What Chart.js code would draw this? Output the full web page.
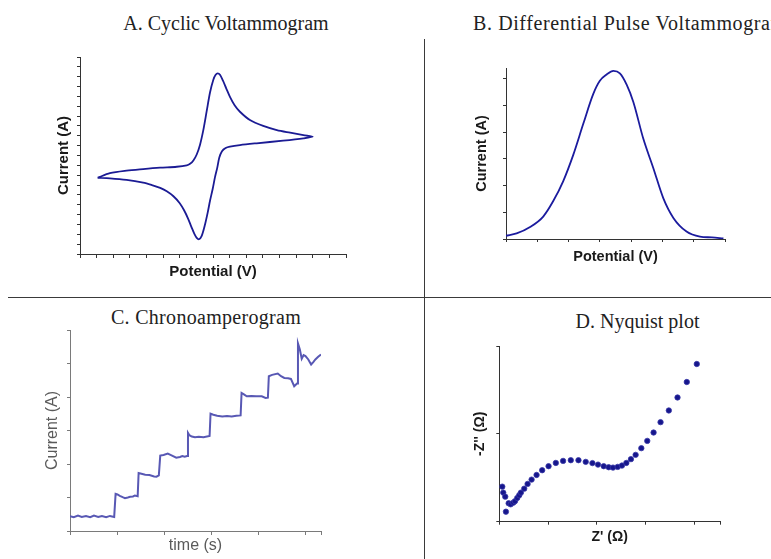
<!DOCTYPE html>
<html>
<head>
<meta charset="utf-8">
<title>Electrochemical techniques</title>
<script src="https://cdn.jsdelivr.net/npm/chart.js@4.4.1/dist/chart.umd.min.js"></script>
<style>
  html, body { margin: 0; padding: 0; background: #fff; }
  body { width: 771px; height: 559px; position: relative; overflow: hidden; }
  canvas.panel { position: absolute; left: 0; top: 0; }
  .heading { position: absolute; font-family: "Liberation Serif", serif; font-size: 20px; line-height: 20px; color: #222; white-space: nowrap; }
  .rule { position: absolute; background: #3a3a3a; }
</style>
</head>
<body>
<div class="rule" style="left:8px;top:297px;width:763px;height:1px"></div>
<div class="rule" style="left:424px;top:39px;width:1px;height:520px"></div>

<div class="heading" style="left:226px;top:12.5px;transform:translateX(-50%)">A. Cyclic Voltammogram</div>
<div class="heading" style="left:473px;top:13px;letter-spacing:0.6px">B. Differential Pulse Voltammogram</div>
<div class="heading" style="left:206px;top:306.5px;transform:translateX(-50%);letter-spacing:0.3px">C. Chronoamperogram</div>
<div class="heading" style="left:637.5px;top:310.5px;transform:translateX(-50%)">D. Nyquist plot</div>

<canvas id="cv" class="panel" width="771" height="559"></canvas>
<canvas id="dpv" class="panel" width="771" height="559"></canvas>
<canvas id="ca" class="panel" width="771" height="559"></canvas>
<canvas id="eis" class="panel" width="771" height="559"></canvas>

<script>
// cyclic voltammogram: forward scan to the right vertex, then back
const cvPotential = [0.53, 0.90, 1.40, 1.90, 2.41, 2.91, 3.21, 3.31, 3.41, 3.51, 3.61, 3.71, 3.81, 3.91, 4.01, 4.08, 4.14, 4.21, 4.30, 4.40, 4.51, 4.65, 4.81, 5.11, 5.51, 5.92, 6.32, 6.72, 7.00,
                     6.72, 6.11, 5.31, 4.81, 4.51, 4.38, 4.27, 4.19, 4.13, 4.06, 3.99, 3.91, 3.84, 3.76, 3.66, 3.58, 3.51, 3.44, 3.35, 3.25, 3.13, 3.00, 2.81, 2.61, 2.41, 2.16, 1.90, 1.40, 0.90, 0.53];
const cvCurrent   = [3.87, 4.10, 4.23, 4.31, 4.38, 4.43, 4.50, 4.58, 4.75, 5.05, 5.55, 6.30, 7.25, 8.20, 8.85, 9.10, 9.17, 9.10, 8.80, 8.40, 7.98, 7.55, 7.22, 6.80, 6.50, 6.29, 6.16, 6.04, 5.96,
                     5.87, 5.75, 5.62, 5.53, 5.45, 5.38, 5.22, 4.90, 4.40, 3.90, 3.30, 2.70, 2.10, 1.50, 0.92, 0.75, 0.82, 1.02, 1.38, 1.80, 2.22, 2.58, 2.93, 3.18, 3.36, 3.50, 3.62, 3.76, 3.84, 3.87];

// differential pulse voltammogram
const dpvPotential = [0, 0.34, 0.77, 1.19, 1.51, 1.83, 2.15, 2.47, 2.79, 3.00, 3.22, 3.43, 3.64, 3.86, 4.07, 4.39, 4.71, 5.03, 5.35, 5.77, 6.20, 6.58, 6.95];
const dpvCurrent   = [0.12, 0.21, 0.45, 0.84, 1.42, 2.17, 3.15, 4.31, 5.43, 5.92, 6.16, 6.29, 6.20, 5.77, 5.13, 3.75, 2.65, 1.52, 0.79, 0.28, 0.09, 0.06, 0.02];

// chronoamperogram: current steps after each addition
const caTime    = [-0.34, -0.26, -0.17, -0.09, 0.00, 0.09, 0.17, 0.26, 0.34, 0.43, 0.51, 0.60,
                   0.63, 0.67, 0.72, 0.78, 0.83, 0.89, 0.94, 1.00, 1.04, 1.10,
                   1.12, 1.18, 1.26, 1.35, 1.45, 1.50, 1.55,
                   1.58, 1.65, 1.74, 1.82, 1.92, 2.00, 2.05, 2.10, 2.15,
                   2.17, 2.20, 2.25, 2.32, 2.40, 2.50, 2.63,
                   2.65, 2.71, 2.79, 2.90, 3.00, 3.10, 3.20, 3.29,
                   3.31, 3.36, 3.42, 3.52, 3.62, 3.74, 3.82, 3.87,
                   3.89, 3.96, 4.08, 4.15, 4.22, 4.30, 4.36, 4.43, 4.49,
                   4.51, 4.55, 4.59, 4.63, 4.67, 4.73, 4.79, 4.84, 4.88, 4.94, 5.00];
const caCurrent = [0.44, 0.41, 0.46, 0.42, 0.45, 0.41, 0.46, 0.42, 0.45, 0.41, 0.45, 0.42,
                   1.11, 1.09, 1.05, 1.01, 0.98, 1.00, 1.02, 1.03, 1.06, 1.04,
                   1.73, 1.71, 1.68, 1.67, 1.63, 1.62, 1.66,
                   2.25, 2.27, 2.31, 2.26, 2.19, 2.21, 2.24, 2.22, 2.24,
                   2.93, 2.86, 2.82, 2.80, 2.81, 2.80, 2.84,
                   3.50, 3.47, 3.44, 3.42, 3.43, 3.42, 3.44, 3.45,
                   4.12, 4.08, 4.02, 4.03, 4.02, 4.02, 3.97, 3.98,
                   4.62, 4.66, 4.70, 4.62, 4.57, 4.56, 4.54, 4.32, 4.40,
                   5.60, 5.42, 5.14, 5.25, 5.22, 5.12, 4.97, 5.05, 5.12, 5.20, 5.27];

// impedance spectrum, real vs negative imaginary part
const zReal = [-0.464, -0.444, -0.403, -0.389, -0.333, -0.292, -0.239, -0.204, -0.157, -0.117, -0.082, -0.014, 0.055, 0.137, 0.239, 0.354, 0.485, 0.634, 0.783, 0.941,
               1.098, 1.247, 1.384, 1.499, 1.616, 1.718, 1.806, 1.902, 1.990, 2.080, 2.174, 2.270, 2.387, 2.509, 2.638, 2.781, 2.951, 3.129, 3.319, 3.524];
const zImag = [0.399, 0.331, 0.285, 0.114, 0.210, 0.198, 0.217, 0.233, 0.270, 0.301, 0.331, 0.376, 0.430, 0.479, 0.532, 0.586, 0.632, 0.669, 0.692, 0.700,
               0.700, 0.681, 0.667, 0.650, 0.632, 0.620, 0.616, 0.624, 0.639, 0.669, 0.712, 0.761, 0.837, 0.920, 1.015, 1.133, 1.266, 1.414, 1.590, 1.795];

const W = 771, H = 559;

let puntos = (xs, ys) => xs.map((x, i) => ({ x: x, y: ys[i] }));

// fixed scale sizes so every plot area lands where it should on the page
let marco = (area, yTitleX, xTitleY, fontSize) => {
    let half = fontSize * 1.2 / 2;
    let left = yTitleX - half;
    let bottom = xTitleY + half;
    return {
        padding: { left: left, top: area.top, right: W - area.right, bottom: H - bottom },
        yw: area.left - left,
        xh: bottom - area.bottom
    };
};

let escala = (cfg) => ({
    type: 'linear',
    min: cfg.min,
    max: cfg.max,
    bounds: 'data',
    afterFit: (s) => { if (s.isHorizontal()) { s.height = cfg.size; } else { s.width = cfg.size; } },
    border: { display: true, color: cfg.axisColor, width: 1 },
    grid: { display: true, drawOnChartArea: false, drawTicks: true, tickLength: cfg.tickLength, color: cfg.axisColor, tickColor: cfg.axisColor },
    ticks: { display: false, stepSize: cfg.step, includeBounds: false },
    title: { display: true, text: cfg.title, color: cfg.titleColor, font: cfg.font, padding: 0 }
});

let grafico = (id, datasets, m, xCfg, yCfg) => {
    xCfg.size = m.xh;
    yCfg.size = m.yw;
    return new Chart(document.getElementById(id).getContext('2d'), {
        type: 'scatter',
        data: { datasets: datasets },
        options: {
            responsive: false,
            animation: false,
            events: [],
            layout: { padding: m.padding },
            plugins: { legend: { display: false }, tooltip: { enabled: false } },
            scales: { x: escala(xCfg), y: escala(yCfg) }
        }
    });
};

const boldSans = (size) => ({ family: '"Liberation Sans", Arial, sans-serif', size: size, weight: 'bold' });
const plainSans = (size) => ({ family: '"Liberation Sans", Arial, sans-serif', size: size, weight: 'normal' });

// A. cyclic voltammogram
grafico('cv', [{
        data: puntos(cvPotential, cvCurrent),
        showLine: true, borderColor: '#1b1b94', borderWidth: 1.8, pointRadius: 0, tension: 0.3, fill: false
    }],
    marco({ left: 80, top: 57, right: 346, bottom: 254 }, 64, 272, 15),
    { min: 0, max: 8, step: 0.5, tickLength: 4, axisColor: '#333', title: 'Potential (V)', titleColor: '#1a1a1a', font: boldSans(15) },
    { min: 0, max: 10, step: 0.5, tickLength: 3, axisColor: '#333', title: 'Current (A)', titleColor: '#1a1a1a', font: boldSans(15) });

// B. differential pulse voltammogram
grafico('dpv', [{
        data: puntos(dpvPotential, dpvCurrent),
        showLine: true, borderColor: '#1b1b9e', borderWidth: 1.8, pointRadius: 0, cubicInterpolationMode: 'monotone', fill: false
    }],
    marco({ left: 506, top: 68, right: 725, bottom: 239 }, 481.7, 256.7, 14.5),
    { min: 0, max: 7, step: 1, tickLength: 3, axisColor: '#333', title: 'Potential (V)', titleColor: '#1a1a1a', font: boldSans(14.5) },
    { min: 0, max: 6.4, step: 1, tickLength: 3, axisColor: '#333', title: 'Current (A)', titleColor: '#1a1a1a', font: boldSans(14.5) });

// C. chronoamperogram
grafico('ca', [{
        data: puntos(caTime, caCurrent),
        showLine: true, borderColor: '#5858b4', borderWidth: 2, pointRadius: 0, tension: 0, fill: false
    }],
    marco({ left: 70, top: 330, right: 321, bottom: 531 }, 53, 546, 16),
    { min: -0.34, max: 5, step: 1, tickLength: 4, axisColor: '#7a7a7a', title: 'time (s)', titleColor: '#5a5a5a', font: plainSans(16) },
    { min: 0, max: 6, step: 1, tickLength: 3, axisColor: '#7a7a7a', title: 'Current (A)', titleColor: '#5a5a5a', font: plainSans(16) });

// D. Nyquist plot
grafico('eis', [{
        data: puntos(zReal, zImag),
        showLine: false, pointRadius: 2.7, pointBackgroundColor: '#16168c', pointBorderColor: '#3a3aa8', pointBorderWidth: 0.8
    }],
    marco({ left: 499.3, top: 346, right: 720, bottom: 521.7 }, 480, 537.3, 14),
    { min: -0.525, max: 4, step: 1, tickLength: 3, axisColor: '#333', title: "Z' (Ω)", titleColor: '#1a1a1a', font: boldSans(14) },
    { min: 0, max: 2, step: 1, tickLength: 3, axisColor: '#333', title: "-Z'' (Ω)", titleColor: '#1a1a1a', font: boldSans(14) });
</script>
</body>
</html>
